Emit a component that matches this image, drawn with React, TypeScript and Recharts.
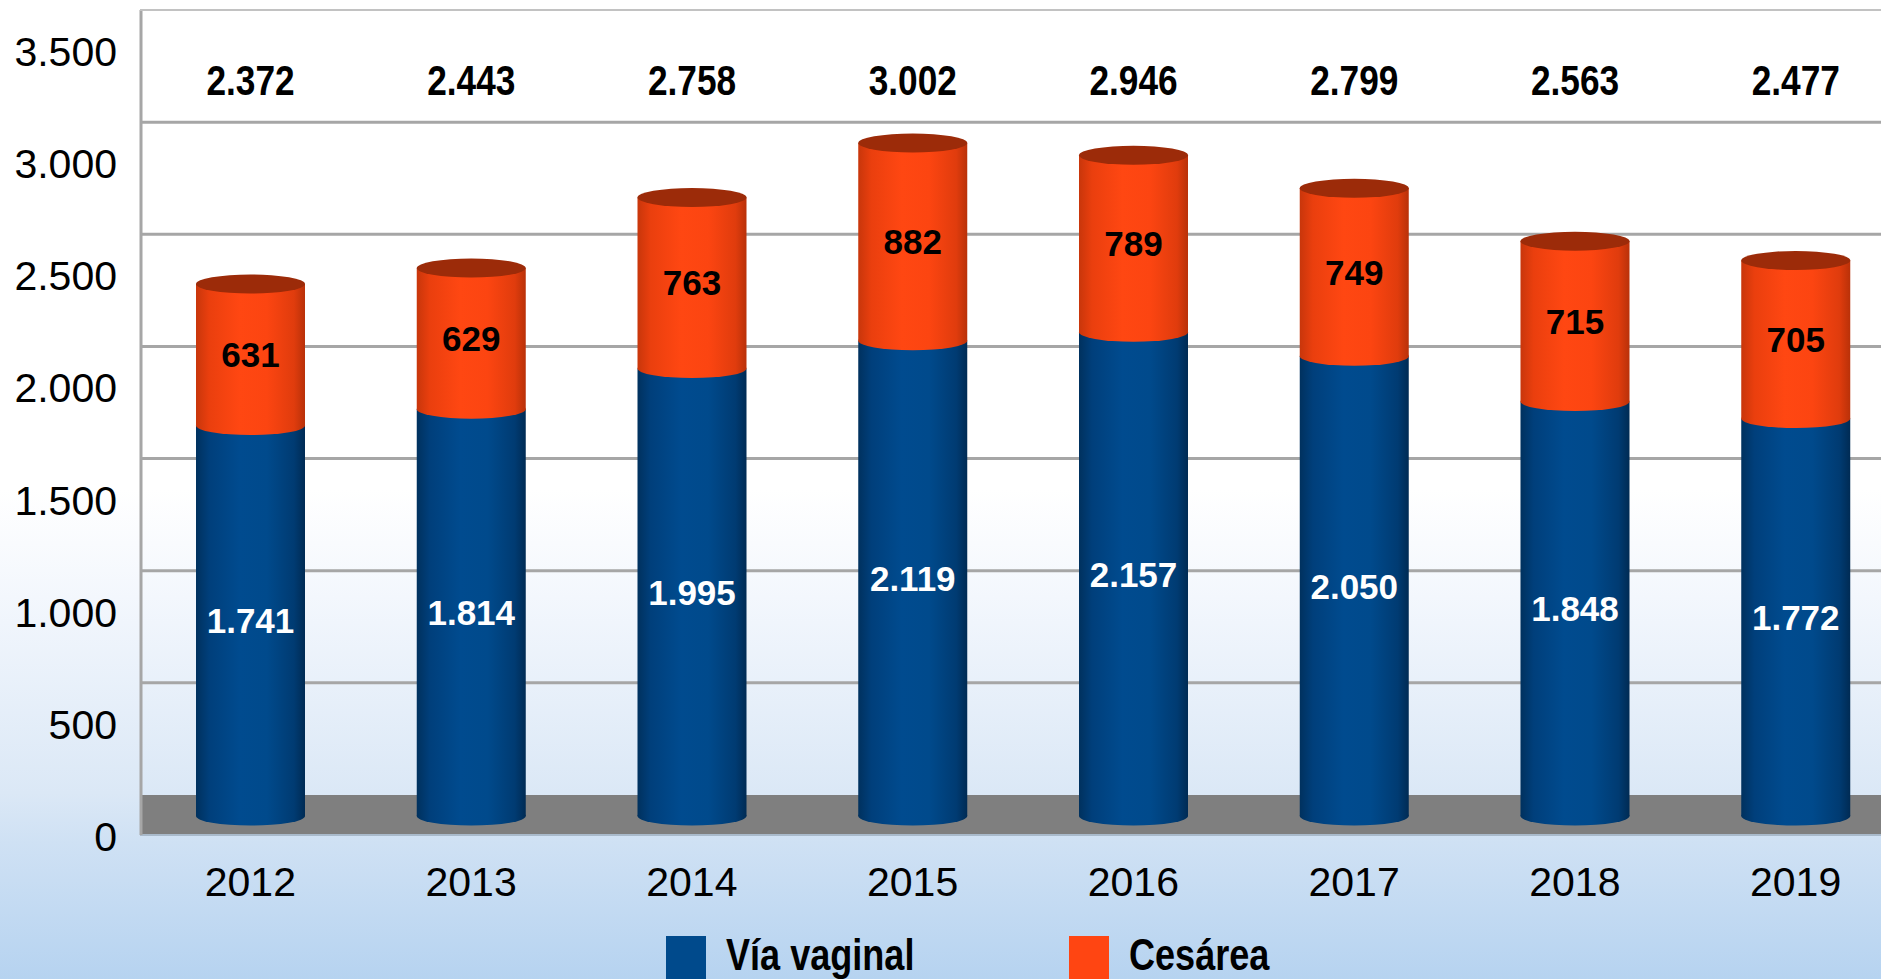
import React from 'react'
import {
  BarChart,
  Bar,
  XAxis,
  YAxis,
  CartesianGrid,
  LabelList,
  Legend,
} from 'recharts'

const years = ['2012', '2013', '2014', '2015', '2016', '2017', '2018', '2019']
const vaginal = [1741, 1814, 1995, 2119, 2157, 2050, 1848, 1772]
const cesarea = [631, 629, 763, 882, 789, 749, 715, 705]
const totals = [2372, 2443, 2758, 3002, 2946, 2799, 2563, 2477]
const yTicks = [0, 500, 1000, 1500, 2000, 2500, 3000, 3500]
const legendOrder = ['vaginal', 'cesarea']

const data = years.map((year, i) => ({
  year,
  vaginal: vaginal[i],
  cesarea: cesarea[i],
  total: totals[i],
}))

const WIDTH = 1906
const HEIGHT = 979
const TOP = 10
const AXIS_W = 140
const X_AXIS_H = 184
const PLOT_BOTTOM = HEIGHT - X_AXIS_H
const DEPTH = 21 // cylinders sit half way between back wall and front edge
const FLOOR = 40
const RY = 9.5

const SANS = "'Liberation Sans', Arial, sans-serif"
const NARROW_X = 0.82 // Arial Narrow look, squeezed Liberation Sans

const fmt = (v: number) => String(v).replace(/\B(?=(\d{3})+(?!\d))/g, '.')

function VaginalCylinder(props: any) {
  const { x, y, width, height } = props
  if (!width || height == null) return null
  const top = y + DEPTH
  const bottom = y + height + DEPTH
  return (
    <g>
      <ellipse cx={x + width / 2} cy={bottom} rx={width / 2} ry={RY} fill="url(#gradBlue)" />
      <rect x={x} y={top} width={width} height={bottom - top} fill="url(#gradBlue)" />
    </g>
  )
}

function CesareaCylinder(props: any) {
  const { x, y, width, height } = props
  if (!width || height == null) return null
  const top = y + DEPTH
  const bottom = y + height + DEPTH
  return (
    <g>
      <ellipse cx={x + width / 2} cy={bottom} rx={width / 2} ry={RY} fill="url(#gradOrange)" />
      <rect x={x} y={top} width={width} height={bottom - top} fill="url(#gradOrange)" />
      <ellipse cx={x + width / 2} cy={top} rx={width / 2} ry={RY} fill="#9c2b09" />
    </g>
  )
}

const insideLabel = (color: string) => (props: any) => {
  const vb = props.viewBox || props
  const x = props.x ?? vb.x
  const y = props.y ?? vb.y
  const width = props.width ?? vb.width
  const height = props.height ?? vb.height
  return (
    <text
      x={x + width / 2}
      y={y + DEPTH + height / 2 + 12.5}
      textAnchor="middle"
      fill={color}
      fontFamily={SANS}
      fontWeight="bold"
      fontSize={35}
    >
      {fmt(Number(props.value))}
    </text>
  )
}

const totalLabel = (props: any) => {
  const vb = props.viewBox || props
  const x = props.x ?? vb.x
  const width = props.width ?? vb.width
  return (
    <text
      transform={`translate(${x + width / 2},${TOP + 85}) scale(${NARROW_X},1)`}
      textAnchor="middle"
      fill="#000"
      fontFamily={SANS}
      fontWeight="bold"
      fontSize={43}
    >
      {fmt(Number(props.value))}
    </text>
  )
}

function renderGridLine(props: any) {
  const { x1, x2, y1 } = props
  if (Math.abs(y1 - PLOT_BOTTOM) < 1) {
    return (
      <g key={props.key ?? 'floor'}>
        <rect x={x1} y={y1} width={x2 - x1} height={FLOOR} fill="#7f7f7f" />
        <line x1={x1} y1={y1 + FLOOR} x2={x2} y2={y1 + FLOOR} stroke="#a9bacb" strokeWidth={2} />
        <line x1={x1 + 1} y1={TOP} x2={x1 + 1} y2={y1 + FLOOR} stroke="#a6a6a6" strokeWidth={3} />
      </g>
    )
  }
  if (Math.abs(y1 - TOP) < 1) {
    return <line key={props.key ?? 'top'} x1={x1} y1={y1} x2={x2} y2={y1} stroke="#c2c2c2" strokeWidth={2} />
  }
  return <line key={props.key ?? y1} x1={x1} y1={y1} x2={x2} y2={y1} stroke="#a6a6a6" strokeWidth={3} />
}

function YTick(props: any) {
  const { x, y, payload } = props
  return (
    <text x={x - 23} y={y + 56} textAnchor="end" fill="#000" fontFamily={SANS} fontSize={41}>
      {fmt(payload.value)}
    </text>
  )
}

function XTick(props: any) {
  const { x, y, payload } = props
  return (
    <text x={x} y={y + 101} textAnchor="middle" fill="#000" fontFamily={SANS} fontSize={41}>
      {payload.value}
    </text>
  )
}

function LegendContent(props: any) {
  const payload = [...(props.payload || [])].sort(
    (a: any, b: any) => legendOrder.indexOf(a.dataKey) - legendOrder.indexOf(b.dataKey)
  )
  return (
    <svg width={WIDTH} height={60} style={{ display: 'block' }}>
      {payload.map((entry: any, i: number) => {
        const x0 = 666 + i * 403
        return (
          <g key={entry.value}>
            <rect x={x0} y={6} width={40} height={50} fill={entry.color} />
            <text
              transform={`translate(${x0 + 60},40) scale(${NARROW_X},1)`}
              fill="#000"
              fontFamily={SANS}
              fontWeight="bold"
              fontSize={44}
            >
              {entry.value}
            </text>
          </g>
        )
      })}
    </svg>
  )
}

export default function App() {
  return (
    <div
      style={{
        position: 'fixed',
        left: 0,
        top: 0,
        width: 1881,
        height: 979,
        overflow: 'hidden',
        background:
          'linear-gradient(to bottom, #ffffff 0%, #ffffff 50%, #f3f7fd 61%, #dbe8f6 81%, #cfe1f4 86%, #b6d3f0 100%)',
      }}
    >
      <BarChart
        width={WIDTH}
        height={HEIGHT}
        data={data}
        margin={{ top: TOP, right: 0, bottom: 0, left: 0 }}
      >
        <defs>
          <linearGradient id="gradBlue" x1="0" y1="0" x2="1" y2="0">
            <stop offset="0%" stopColor="#00315e" />
            <stop offset="12%" stopColor="#003f7b" />
            <stop offset="40%" stopColor="#004b8f" />
            <stop offset="65%" stopColor="#004a8c" />
            <stop offset="90%" stopColor="#003b72" />
            <stop offset="100%" stopColor="#002b54" />
          </linearGradient>
          <linearGradient id="gradOrange" x1="0" y1="0" x2="1" y2="0">
            <stop offset="0%" stopColor="#c8360b" />
            <stop offset="12%" stopColor="#ea3f0e" />
            <stop offset="40%" stopColor="#ff4712" />
            <stop offset="65%" stopColor="#fc4511" />
            <stop offset="90%" stopColor="#e03c0d" />
            <stop offset="100%" stopColor="#b93109" />
          </linearGradient>
        </defs>
        <CartesianGrid vertical={false} horizontal={renderGridLine} />
        <XAxis
          dataKey="year"
          height={X_AXIS_H}
          axisLine={false}
          tickLine={false}
          tickSize={0}
          tickMargin={0}
          tick={XTick}
          interval={0}
        />
        <YAxis
          width={AXIS_W}
          domain={[0, 3500]}
          ticks={yTicks}
          axisLine={false}
          tickLine={false}
          tickSize={0}
          tickMargin={0}
          tick={YTick}
        />
        <Legend
          layout="horizontal"
          verticalAlign="middle"
          align="center"
          content={LegendContent}
          wrapperStyle={{ position: 'absolute', top: 930, left: 0, width: WIDTH, height: 60 }}
        />
        <Bar
          dataKey="vaginal"
          name="Vía vaginal"
          stackId="a"
          fill="#004a8c"
          barSize={109}
          shape={VaginalCylinder}
          isAnimationActive={false}
        >
          <LabelList dataKey="vaginal" content={insideLabel('#ffffff')} />
        </Bar>
        <Bar
          dataKey="cesarea"
          name="Cesárea"
          stackId="a"
          fill="#ff4512"
          barSize={109}
          shape={CesareaCylinder}
          isAnimationActive={false}
        >
          <LabelList dataKey="cesarea" content={insideLabel('#000000')} />
          <LabelList dataKey="total" content={totalLabel} />
        </Bar>
      </BarChart>
    </div>
  )
}
